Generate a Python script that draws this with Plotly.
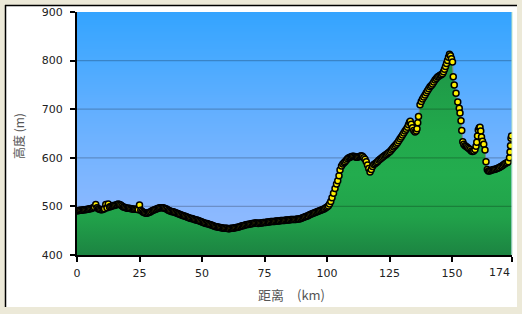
import plotly.graph_objects as go
import numpy as np

# ---------------- data ----------------
km_flat = [0, 0.5, 1, 1.5, 2, 2.5, 3, 3.5, 4, 4.5, 5, 5.5, 6, 6.5, 7, 7.5, 8, 8.5, 9, 9.5,
           10, 10.5, 11, 11.5, 12, 12.5, 13, 13.5, 14, 14.5, 15, 15.5, 16, 16.5, 17, 17.5, 18, 18.5, 19, 19.5,
           20, 20.5, 21, 21.5, 22, 22.5, 23, 23.5, 24, 24.5, 25, 25.5, 26, 26.5, 27, 27.5, 28, 28.5, 29, 29.5,
           30, 30.5, 31, 31.5, 32, 32.5, 33, 33.5, 34, 34.5, 35, 35.5, 36, 36.5, 37, 37.5, 38, 38.5, 39, 39.5,
           40, 40.5, 41, 41.5, 42, 42.5, 43, 43.5, 44, 44.5, 45, 45.5, 46, 46.5, 47, 47.5, 48, 48.5, 49, 49.5,
           50, 50.5, 51, 51.5, 52, 52.5, 53, 53.5, 54, 54.5, 55, 55.5, 56, 56.5, 57, 57.5, 58, 58.5, 59, 59.5,
           60, 60.5, 61, 61.5, 62, 62.5, 63, 63.5, 64, 64.5, 65, 65.5, 66, 66.5, 67, 67.5, 68, 68.5, 69, 69.5,
           70, 70.5, 71, 71.5, 72, 72.5, 73, 73.5, 74, 74.5, 75, 75.5, 76, 76.5, 77, 77.5, 78, 78.5, 79, 79.5,
           80, 80.5, 81, 81.5, 82, 82.5, 83, 83.5, 84, 84.5, 85, 85.5, 86, 86.5, 87, 87.5, 88, 88.5, 89, 89.5,
           90, 90.5, 91, 91.5, 92, 92.5, 93, 93.5, 94, 94.5, 95, 95.5, 96, 96.5, 97, 97.5, 98, 98.5, 99, 99.5,
           100, 100.5, 101, 101.5]
elev_flat = [491, 491, 492, 492, 492, 493, 493, 493, 494, 494,
             495, 495, 496, 497, 498, 504, 497, 495, 494, 493,
             493, 494, 495, 504, 497, 505, 499, 500, 501, 502,
             502, 503, 504, 505, 504, 503, 501, 499, 498, 497,
             496, 496, 496, 495, 495, 494, 494, 494, 494, 493,
             503, 492, 490, 488, 487, 486, 486, 487, 488, 489,
             491, 492, 493, 494, 495, 496, 497, 497, 497, 497,
             496, 495, 494, 492, 491, 490, 489, 489, 488, 487,
             486, 485, 484, 483, 482, 481, 480, 479, 478, 477,
             476, 475, 475, 474, 473, 472, 472, 471, 470, 469,
             468, 467, 466, 465, 465, 464, 463, 462, 461, 460,
             459, 458, 458, 457, 457, 456, 456, 455, 455, 455,
             455, 454, 454, 455, 455, 455, 456, 456, 457, 457,
             458, 459, 460, 460, 461, 462, 463, 463, 464, 464,
             465, 465, 466, 466, 466, 465, 466, 466, 466, 467,
             467, 467, 468, 468, 468, 469, 469, 469, 469, 470,
             470, 470, 470, 471, 471, 471, 471, 472, 472, 472,
             472, 473, 473, 473, 473, 473, 474, 474, 474, 475,
             476, 477, 478, 479, 480, 481, 483, 484, 485, 486,
             487, 488, 489, 490, 491, 492, 493, 494, 495, 497,
             499, 501, 505, 510]

km_hill = [102, 102.6, 103.2, 103.8, 104.3, 104.8, 105.2, 105.8, 106.3, 106.8, 107.2, 107.7, 108.2, 108.7,
           109.2, 109.7, 110.2, 110.7, 111.2, 111.7, 112.2, 112.7, 113.2, 113.7, 114.2, 114.7, 115.2, 115.7,
           116.2, 116.7, 117.2, 117.7, 118.2, 118.7, 119.2, 119.7, 120.2, 120.7, 121.2, 121.7, 122.2, 122.7,
           123.2, 123.7, 124.2, 124.7, 125.2, 125.7, 126.2, 126.7, 127.2, 127.7, 128.2, 128.7, 129.2, 129.7,
           130.2, 130.7, 131.2, 131.7, 132.2, 132.6, 133.0, 133.3, 133.7, 134.2, 134.7, 135.2, 135.7, 136.0,
           136.3, 136.6, 137.2, 137.7, 138.2, 138.7, 139.2, 139.7, 140.2, 140.7, 141.2, 141.7, 142.2, 142.7,
           143.2, 143.7, 144.2, 144.7, 145.2, 145.7, 146.2, 146.6, 147.0, 147.4, 147.8, 148.2, 148.6, 149.0,
           149.4, 149.8, 150.2, 150.5, 150.9, 151.6, 152.3, 152.9, 153.2, 153.6, 153.9, 154.3, 154.7, 155.2,
           155.7, 156.2, 156.7, 157.2, 157.7, 158.2, 158.7, 159.2, 159.6, 159.9, 160.2, 160.5, 160.9, 161.2,
           161.5, 161.8, 162.2, 162.7, 163.2, 163.6, 164.1, 164.5, 165.0, 165.5, 166.0, 166.5, 167.0, 167.5,
           168.0, 168.5, 169.0, 169.5, 170.0, 170.5, 171.0, 171.5, 172.0, 172.5, 173.0, 173.2, 173.4, 173.6,
           173.8]
elev_hill = [518, 527, 537, 546, 553, 563, 575, 583, 587, 590, 592, 595, 598, 600,
             601, 602, 603, 603, 602, 601, 601, 602, 603, 604, 603, 600, 597, 592,
             585, 578, 571, 576, 582, 586, 588, 590, 592, 595, 597, 599, 601, 603,
             605, 607, 609, 611, 613, 616, 619, 622, 625, 628, 631, 635, 639, 643,
             647, 651, 655, 659, 663, 668, 673, 675, 669, 662, 656, 653, 655, 660,
             672, 685, 709, 716, 721, 725, 729, 734, 738, 742, 746, 749, 752, 756,
             760, 763, 766, 768, 770, 771, 773, 777, 782, 788, 794, 800, 807, 813,
             810, 804, 797, 767, 750, 733, 715, 702, 692, 676, 656, 633, 628, 625,
             623, 621, 619, 617, 614, 613, 614, 617, 624, 632, 645, 657, 662, 663,
             655, 643, 634, 628, 616, 592, 576, 573, 573, 574, 575, 576, 576, 577,
             578, 579, 580, 582, 583, 585, 587, 589, 590, 592, 600, 612, 625, 640,
             645]

distance_km = km_flat + km_hill
elevation_m = elev_flat + elev_hill

x_tickvals = [0, 25, 50, 75, 100, 125, 150, 174]
x_ticktext = ["0", "25", "50", "75", "100", "125", "150", "174"]
y_tickvals = [400, 500, 600, 700, 800, 900]
x_range = [0, 174]
y_range = [400, 900]

x_title = "距离　(km)"
y_title = "高度 (m)"

# the last x label sits left of its tick in the reference -> drawn as a right-anchored annotation
x_ticktext_disp = x_ticktext[:-1] + [""]

# ---------------- figure ----------------
fig = go.Figure()

# sky gradient background
sky_y = np.linspace(y_range[0], y_range[1], 51)
fig.add_trace(go.Heatmap(
    x=x_range, y=sky_y, z=[[v, v] for v in sky_y],
    zsmooth="best", showscale=False, hoverinfo="skip",
    zmin=y_range[0], zmax=y_range[1],
    colorscale=[[0.0, "#96BCFF"], [0.2, "#89B8FF"], [0.4, "#76B4FF"],
                [0.6, "#62AFFF"], [0.8, "#4AAAFF"], [1.0, "#34A4FF"]],
))

# green terrain fill
fig.add_trace(go.Scatter(
    x=distance_km, y=elevation_m, mode="lines",
    line=dict(color="#8A8A8A", width=1),
    fill="tozeroy",
    fillgradient=dict(type="vertical", start=400, stop=815,
                      colorscale=[[0.0, "#1C8442"], [0.19, "#21A24A"], [0.4, "#23AC4E"],
                                  [0.6, "#22A94C"], [0.85, "#1F9C48"], [1.0, "#1D9446"]]),
    hoverinfo="skip", showlegend=False,
))

# grid lines (above fill, below markers)
gx, gy = [], []
for v in y_tickvals[1:-1]:
    gx += [x_range[0], x_range[1], None]
    gy += [v, v, None]
fig.add_trace(go.Scatter(x=gx, y=gy, mode="lines",
                         line=dict(color="rgba(0,0,0,0.22)", width=1.3),
                         hoverinfo="skip", showlegend=False))

# track points
fig.add_trace(go.Scatter(
    x=distance_km, y=elevation_m, mode="markers",
    marker=dict(size=6, color="#FFEF00", line=dict(color="#000000", width=1.5)),
    showlegend=False,
))

font_lat = "DejaVu Sans"
font_cjk = "Noto Sans CJK SC"

fig.update_layout(
    width=522, height=314,
    margin=dict(l=77, r=10, t=12, b=59, pad=0, autoexpand=False),
    paper_bgcolor="#ECE9D8",
    plot_bgcolor="#8AB8FF",
    showlegend=False,
    xaxis=dict(range=x_range, tickvals=x_tickvals, ticktext=x_ticktext_disp, automargin=False,
               showgrid=False, zeroline=False, showline=True, linecolor="#000000", linewidth=2,
               ticks="outside", ticklen=5, tickwidth=1.5, tickcolor="#000000",
               tickfont=dict(family=font_lat, size=11, color="#222222"),
               ticklabelstandoff=2),
    yaxis=dict(range=y_range, tickvals=y_tickvals, automargin=False,
               showgrid=False, zeroline=False, showline=True, linecolor="#000000", linewidth=2,
               ticks="outside", ticklen=5, tickwidth=1.5, tickcolor="#000000",
               tickfont=dict(family=font_lat, size=11, color="#222222"),
               ticklabelstandoff=5, ticklabeloverflow="allow"),
    shapes=[
        dict(type="rect", xref="paper", yref="paper", x0=(5 - 77) / 435, x1=(517 - 77) / 435,
             y0=(255 - 307) / 243, y1=(255 - 5) / 243, fillcolor="#FFFFFF",
             line=dict(width=0), layer="below"),
        dict(type="line", xref="paper", yref="paper", x0=(5.5 - 77) / 435, x1=(5.5 - 77) / 435,
             y0=(255 - 307) / 243, y1=(255 - 5) / 243, line=dict(color="#000000", width=1.5),
             layer="below"),
        dict(type="line", xref="paper", yref="paper", x0=(5 - 77) / 435, x1=(517 - 77) / 435,
             y0=(255 - 5.5) / 243, y1=(255 - 5.5) / 243, line=dict(color="#000000", width=1.5),
             layer="below"),
        dict(type="line", xref="paper", yref="paper", x0=1, x1=1, y0=0, y1=1,
             line=dict(color="#BFE6C4", width=1), layer="above"),
    ],
    annotations=[
        dict(text=y_title, xref="paper", yref="paper", x=(18 - 77) / 435, y=(255 - 136) / 243,
             textangle=-90, showarrow=False, xanchor="center", yanchor="middle",
             font=dict(family=font_cjk, size=12, color="#555555")),
        dict(text=x_title, xref="paper", yref="paper", x=(291 - 77) / 435, y=(255 - 294) / 243,
             showarrow=False, xanchor="center", yanchor="middle",
             font=dict(family=font_cjk, size=13, color="#555555")),
        dict(text=x_ticktext[-1], xref="x", yref="paper", x=x_tickvals[-1], y=(255 - 272) / 243,
             showarrow=False, xanchor="right", yanchor="middle", xshift=0,
             font=dict(family=font_lat, size=11, color="#222222")),
    ],
)

fig.write_html("out.html")
